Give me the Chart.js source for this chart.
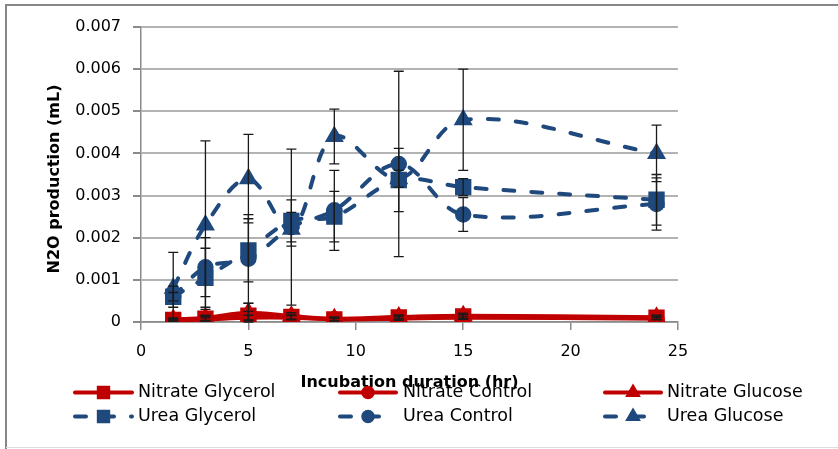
<!DOCTYPE html>
<html>
<head>
<meta charset="utf-8">
<script src="https://cdn.jsdelivr.net/npm/chart.js@4.4.1/dist/chart.umd.min.js"></script>
<style>
  html, body { margin: 0; padding: 0; background: #fff; }
  #wrap { width: 838px; height: 449px; }
</style>
</head>
<body>
<div id="wrap"><canvas id="c" width="838" height="449"></canvas></div>
<script>
// Sampling times (hours of incubation)
const hours = [1.5, 3, 5, 7, 9, 12, 15, 24];

// N2O produced (mL) per treatment, with standard errors
const nitrateGlycerol    = [0.00005, 0.00008, 0.00015, 0.00012, 0.00006, 0.00011, 0.00013, 0.00010];
const nitrateGlycerolErr = [0.00003, 0.00005, 0.00010, 0.00005, 0.00003, 0.00004, 0.00005, 0.00004];
const nitrateControl     = [0.00004, 0.00006, 0.00010, 0.00010, 0.00006, 0.00008, 0.00010, 0.00008];
const nitrateControlErr  = [0.00002, 0.00004, 0.00006, 0.00005, 0.00003, 0.00004, 0.00004, 0.00003];
const nitrateGlucose     = [0.00006, 0.00010, 0.00022, 0.00014, 0.00008, 0.00012, 0.00015, 0.00011];
const nitrateGlucoseErr  = [0.00004, 0.00006, 0.00022, 0.00008, 0.00004, 0.00005, 0.00006, 0.00005];
const ureaGlycerol       = [0.0006, 0.00105, 0.0017, 0.0024, 0.0025, 0.00337, 0.0032, 0.0029];
const ureaGlycerolErr    = [0.00025, 0.0007, 0.00075, 0.0005, 0.0006, 0.00075, 0.0002, 0.0006];
const ureaControl        = [0.0006, 0.0013, 0.0015, 0.00225, 0.00265, 0.00375, 0.00255, 0.0028];
const ureaControlErr     = [0.0001, 0.0007, 0.00105, 0.00185, 0.00095, 0.0022, 0.0004, 0.00062];
const ureaGlucose        = [0.0008, 0.0023, 0.0034, 0.0022, 0.0044, 0.0034, 0.0048, 0.0040];
const ureaGlucoseErr     = [0.00085, 0.0020, 0.00105, 0.0004, 0.00065, 0.0002, 0.0012, 0.00067];

// Axis ticks
const yTickValues = [0, 0.001, 0.002, 0.003, 0.004, 0.005, 0.006, 0.007];
const yTickLabels = ['0', '0.001', '0.002', '0.003', '0.004', '0.005', '0.006', '0.007'];
const xTickValues = [0, 5, 10, 15, 20, 25];
const xTickLabels = ['0', '5', '10', '15', '20', '25'];

const xTitle = 'Incubation duration (hr)';
const yTitle = 'N2O production (mL)';

const RED = '#C00000';
const BLUE = '#1F497D';
const FONT = "'DejaVu Sans', 'Liberation Sans', sans-serif";

function pts(values) {
  return values.map((v, i) => ({ x: hours[i], y: v }));
}

const markerSize = { rect: 10.5, circle: 7.5, triangle: 9.5 };

function series(label, values, errs, color, style, dashed) {
  return {
    label,
    data: pts(values),
    errors: errs,
    borderColor: color,
    backgroundColor: color,
    borderWidth: 4,
    borderDash: dashed ? [11, 17] : [],
    borderCapStyle: 'round',
    borderJoinStyle: 'round',
    pointStyle: style,
    pointRadius: markerSize[style],
    pointBorderWidth: 1.5,
    pointBackgroundColor: color,
    pointBorderColor: color,
    tension: 0.35,
    fill: false
  };
}

const datasets = [
  series('Nitrate Glycerol', nitrateGlycerol, nitrateGlycerolErr, RED, 'rect', false),
  series('Nitrate Control', nitrateControl, nitrateControlErr, RED, 'circle', false),
  series('Nitrate Glucose', nitrateGlucose, nitrateGlucoseErr, RED, 'triangle', false),
  series('Urea Glycerol', ureaGlycerol, ureaGlycerolErr, BLUE, 'rect', true),
  series('Urea Control', ureaControl, ureaControlErr, BLUE, 'circle', true),
  series('Urea Glucose', ureaGlucose, ureaGlucoseErr, BLUE, 'triangle', true)
];

// Legend grid: three columns, two rows
const legendCols = [
  { x0: 75, x1: 132, text: 138 },
  { x0: 340, x1: 396, text: 403 },
  { x0: 605, x1: 661, text: 667 }
];
const legendRows = [392.5, 416.5];

const decorations = {
  id: 'decorations',
  beforeDraw(chart) {
    const ctx = chart.ctx;
    ctx.save();
    ctx.fillStyle = '#fff';
    ctx.fillRect(0, 0, chart.width, chart.height);
    ctx.strokeStyle = '#878787';
    ctx.lineWidth = 2;
    ctx.beginPath();
    ctx.moveTo(6, chart.height);
    ctx.lineTo(6, 5);
    ctx.lineTo(chart.width, 5);
    ctx.stroke();
    ctx.strokeStyle = '#dedede';
    ctx.lineWidth = 1;
    ctx.beginPath();
    ctx.moveTo(6, 447.5);
    ctx.lineTo(chart.width, 447.5);
    ctx.stroke();
    ctx.restore();
  },
  afterDatasetsDraw(chart) {
    const ctx = chart.ctx;
    const xs = chart.scales.x, ys = chart.scales.y;
    const area = chart.chartArea;
    ctx.save();
    ctx.strokeStyle = '#1a1a1a';
    ctx.lineWidth = 1.3;
    ctx.setLineDash([]);
    chart.data.datasets.forEach(ds => {
      ds.data.forEach((p, j) => {
        const e = ds.errors[j];
        const x = xs.getPixelForValue(p.x);
        const yt = ys.getPixelForValue(p.y + e);
        const ybRaw = ys.getPixelForValue(p.y - e);
        const yb = Math.min(ybRaw, area.bottom);
        ctx.beginPath();
        ctx.moveTo(x, yt); ctx.lineTo(x, yb);
        ctx.moveTo(x - 5, yt); ctx.lineTo(x + 5, yt);
        if (ybRaw <= area.bottom) { ctx.moveTo(x - 5, yb); ctx.lineTo(x + 5, yb); }
        ctx.stroke();
      });
    });
    ctx.restore();
  },
  afterDraw(chart) {
    const ctx = chart.ctx;
    const area = chart.chartArea;
    ctx.save();
    ctx.fillStyle = '#000';
    // axis titles
    ctx.font = 'bold 16px ' + FONT;
    ctx.textAlign = 'center';
    ctx.textBaseline = 'middle';
    ctx.fillText(xTitle, (area.left + area.right) / 2, 383);
    ctx.save();
    ctx.translate(55, 179);
    ctx.rotate(-Math.PI / 2);
    ctx.fillText(yTitle, 0, 0);
    ctx.restore();

    // legend
    ctx.font = '17.5px ' + FONT;
    ctx.textAlign = 'left';
    chart.data.datasets.forEach((ds, i) => {
      const col = legendCols[i % 3];
      const y = legendRows[Math.floor(i / 3)];
      ctx.strokeStyle = ds.borderColor;
      ctx.lineWidth = ds.borderWidth;
      ctx.lineCap = 'round';
      ctx.setLineDash(ds.borderDash);
      ctx.beginPath();
      ctx.moveTo(col.x0, y);
      ctx.lineTo(col.x1, y);
      ctx.stroke();
      ctx.setLineDash([]);
      ctx.fillStyle = ds.pointBackgroundColor;
      ctx.strokeStyle = ds.pointBorderColor;
      ctx.lineWidth = ds.pointBorderWidth;
      Chart.helpers.drawPoint(ctx, {
        pointStyle: ds.pointStyle,
        radius: ds.pointRadius * 0.8,
        rotation: 0,
        borderWidth: ds.pointBorderWidth
      }, (col.x0 + col.x1) / 2, y);
      ctx.fillStyle = '#000';
      ctx.fillText(ds.label, col.text, y);
    });
    ctx.restore();
  }
};

new Chart(document.getElementById('c'), {
  type: 'line',
  data: { datasets },
  plugins: [decorations],
  options: {
    responsive: false,
    animation: false,
    devicePixelRatio: 1,
    layout: { padding: { left: 0, top: 27, right: 160, bottom: 0 } },
    plugins: { legend: { display: false }, tooltip: { enabled: false } },
    scales: {
      x: {
        type: 'linear',
        min: 0, max: 25,
        afterBuildTicks: s => { s.ticks = xTickValues.map(v => ({ value: v })); },
        afterFit: s => { s.height = 127; },
        ticks: {
          callback: (v, i) => xTickLabels[i],
          color: '#000',
          font: { family: FONT, size: 16 },
          padding: 12,
          maxRotation: 0
        },
        grid: { drawOnChartArea: false, drawTicks: true, tickLength: 8, color: '#8a8a8a', lineWidth: 1.5 },
        border: { color: '#8a8a8a', width: 1.5 }
      },
      y: {
        type: 'linear',
        min: 0, max: 0.007,
        afterBuildTicks: s => { s.ticks = yTickValues.map(v => ({ value: v })); },
        afterFit: s => { s.width = 141; },
        ticks: {
          callback: (v, i) => yTickLabels[i],
          color: '#000',
          font: { family: FONT, size: 16 },
          padding: 12
        },
        grid: { color: '#b3b3b3', lineWidth: 2, drawTicks: true, tickLength: 8, tickColor: '#8a8a8a' },
        border: { color: '#8a8a8a', width: 1.5 }
      }
    }
  }
});
</script>
</body>
</html>
